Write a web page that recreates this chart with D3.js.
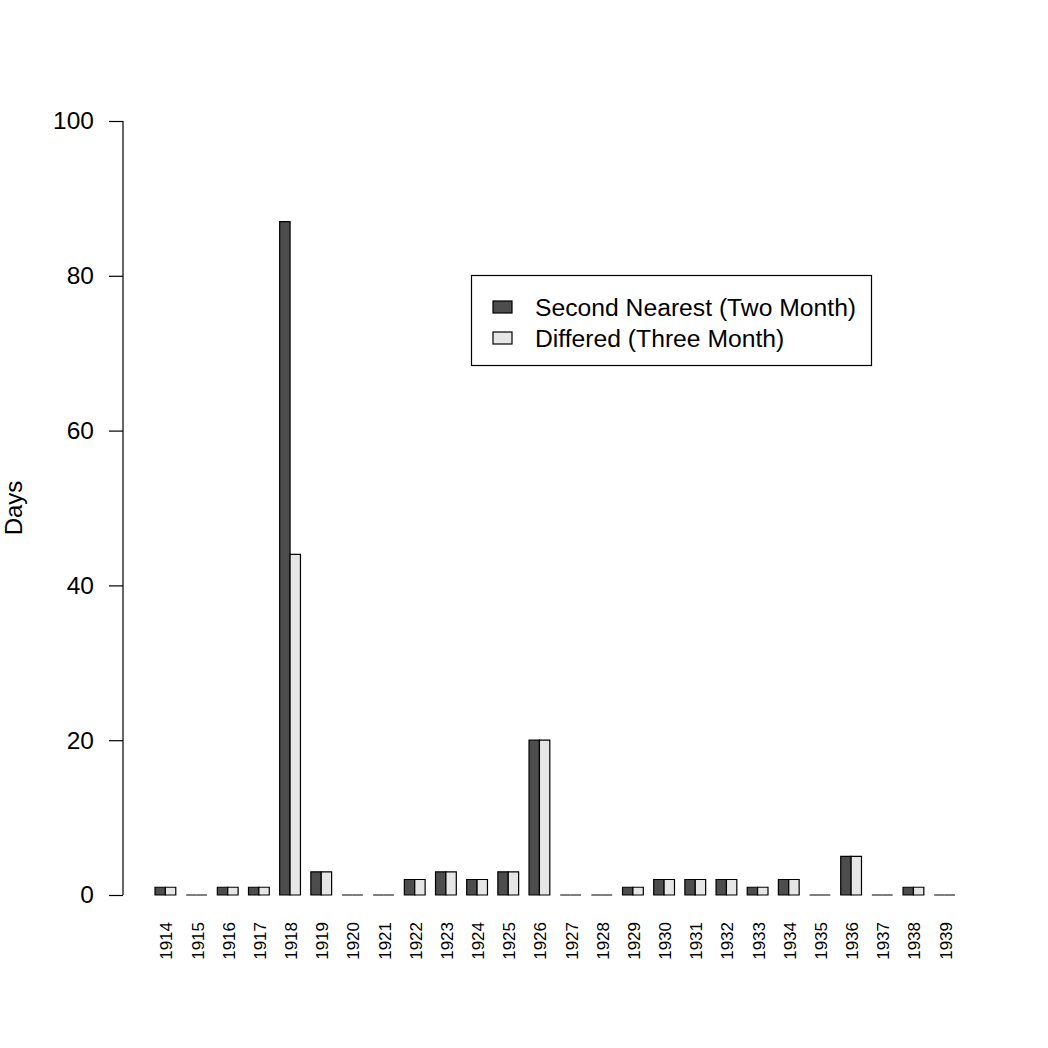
<!DOCTYPE html>
<html>
<head>
<meta charset="utf-8">
<script src="https://d3js.org/d3.v7.min.js"></script>
<style>
  body{ margin:0; background:#ffffff; }
  svg text{ font-family:"Liberation Sans", Arial, Helvetica, sans-serif; fill:#000; }
</style>
</head>
<body>
<svg id="chart" width="1048" height="1048"></svg>
<script>
  // data
  var years = ["1914","1915","1916","1917","1918","1919","1920","1921","1922","1923",
               "1924","1925","1926","1927","1928","1929","1930","1931","1932","1933",
               "1934","1935","1936","1937","1938","1939"]
  var secondNearest = [1,0,1,1,87,3,0,0,2,3,2,3,20,0,0,1,2,2,2,1,2,0,5,0,1,0]
  var differed      = [1,0,1,1,44,3,0,0,2,3,2,3,20,0,0,1,2,2,2,1,2,0,5,0,1,0]
  var seriesNames = ["Second Nearest (Two Month)", "Differed (Three Month)"]
  var seriesColors = ["#4d4d4d", "#e6e6e6"]
  var yTicks = [0,20,40,60,80,100]

  var svg = d3.select("#chart")

  // R barplot style: bars of width 1, gap of 1 before each group
  var nUnits = years.length*3
  var pad = 0.04*(nUnits-1)
  var x = d3.scaleLinear()
      .domain([1-pad, nUnits+pad])
      .range([123, 987])
  var y = d3.scaleLinear()
      .domain([0,100])
      .range([895,121])

  var bars = []
  years.forEach(function(yr,i){
    bars.push({left:1+3*i, value:secondNearest[i], s:0})
    bars.push({left:2+3*i, value:differed[i], s:1})
  })

  // paths so zero bars still show as a line
  svg.selectAll("path.bar")
    .data(bars)
    .enter()
    .append("path")
    .attr("class","bar")
    .attr("d",function(d){
      var x0 = x(d.left), x1 = x(d.left+1), y0 = y(0), y1 = y(d.value)
      return "M"+x0+","+y0+"H"+x1+"V"+y1+"H"+x0+"Z"
    })
    .attr("fill",function(d){ return seriesColors[d.s] })
    .attr("stroke","#000")
    .attr("stroke-width",1.2)

  // y axis
  var yAxis = d3.axisLeft(y).tickValues(yTicks).tickSize(14).tickPadding(15)
  var gy = svg.append("g").attr("transform","translate(123,0)").call(yAxis)
  gy.select(".domain").attr("d","M0,"+y(0)+"V"+y(100)).attr("stroke","#000").attr("stroke-width",1.2)
  gy.selectAll(".tick line").attr("stroke","#000").attr("stroke-width",1.2)
  gy.selectAll(".tick text")
    .style("font-size","24.5px")
    .attr("fill","#000")

  // year labels, vertical
  svg.selectAll("text.year")
    .data(years)
    .enter()
    .append("text")
    .attr("class","year")
    .attr("transform",function(d,i){ return "translate("+(x(2+3*i)+1)+",922) rotate(-90)" })
    .attr("text-anchor","end")
    .attr("dy","0.35em")
    .style("font-size","17px")
    .text(function(d){ return d })

  // y title
  svg.append("text")
    .attr("transform","translate(22,508) rotate(-90)")
    .attr("text-anchor","middle")
    .style("font-size","24px")
    .text("Days")

  // legend
  var legend = svg.append("g")
  legend.append("rect")
    .attr("x",471.5).attr("y",275.5)
    .attr("width",400).attr("height",90)
    .attr("fill","#fff").attr("stroke","#000").attr("stroke-width",1.2)
  var rows = legend.selectAll("g.row")
    .data(seriesNames)
    .enter()
    .append("g")
    .attr("transform",function(d,i){ return "translate(0,"+(307+i*31)+")" })
  rows.append("rect")
    .attr("x",493).attr("y",-6)
    .attr("width",19).attr("height",12)
    .attr("fill",function(d,i){ return seriesColors[i] })
    .attr("stroke","#000").attr("stroke-width",1.2)
  rows.append("text")
    .attr("x",535).attr("dy","0.35em")
    .style("font-size","24.7px")
    .text(function(d){ return d })
</script>
</body>
</html>
